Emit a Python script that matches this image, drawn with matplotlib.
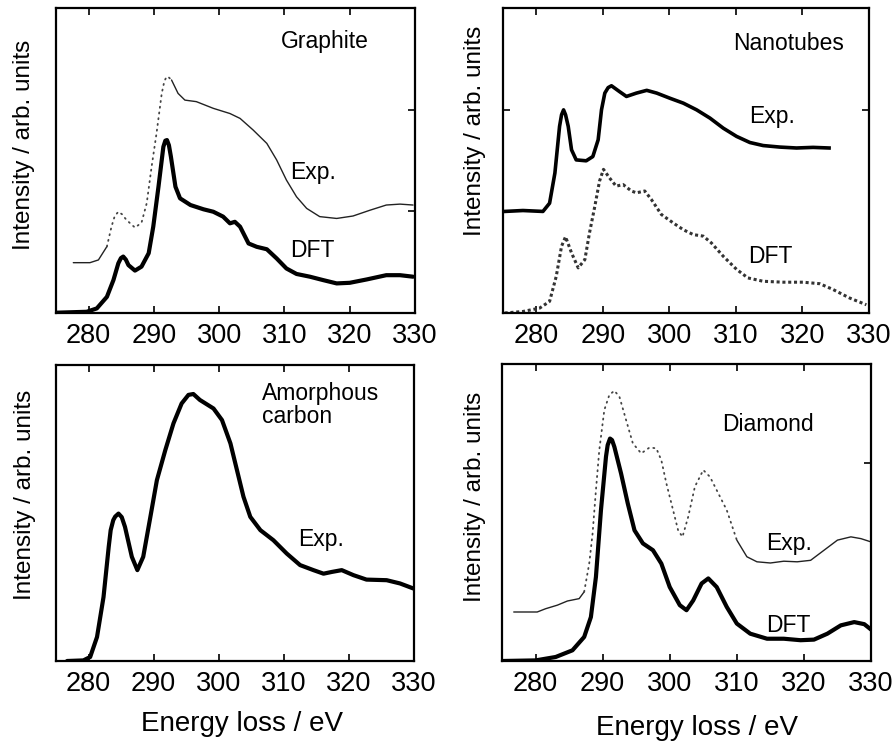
import matplotlib
matplotlib.use("Agg")
import matplotlib.pyplot as plt

plt.rcParams['font.family'] = ['Liberation Sans', 'DejaVu Sans']

# ---------------- data (energy loss in eV, intensity in arb. units 0-100) ----------------
graphite_exp_E = [277.65, 280.2, 281.5, 282.8, 283.5, 284.0, 284.55, 285.1, 285.8, 287.1, 288.1, 288.9,
                  289.65, 290.4, 291.2, 291.6, 291.95, 292.3, 292.7, 293.7, 294.75, 296.5, 299.1,
                  301.65, 303.2, 305.2, 307.3, 308.8, 310.3, 311.85, 313.4, 315.4, 318.0, 320.5,
                  323.1, 325.6, 327.7, 329.7]
graphite_exp_I = [16.5, 16.5, 17.4, 21.8, 28.3, 31.8, 33.2, 32.4, 30.5, 28.0, 29.6, 36.0,
                  48.0, 58.9, 72.0, 76.0, 77.5, 77.2, 76.4, 72.0, 69.8, 69.3, 67.1,
                  65.4, 63.8, 60.0, 55.6, 50.2, 43.6, 38.1, 34.3, 31.6, 31.0, 31.8,
                  33.7, 35.4, 35.7, 35.4]

graphite_dft_E = [275.1, 279.7, 281.25, 282.8, 283.8, 284.55, 284.95, 285.3, 285.7, 286.1, 287.1,
                  288.1, 289.2, 289.9, 290.7, 291.45, 291.75, 292.0, 292.3, 292.6, 293.3, 294.0,
                  295.6, 297.6, 299.1, 300.6, 301.65, 302.4, 303.2, 304.5, 305.75, 307.3, 308.8,
                  310.3, 311.85, 313.9, 315.9, 318.0, 320.0, 322.6, 325.6, 327.7, 329.7]
graphite_dft_I = [0.1, 0.4, 1.5, 5.3, 10.8, 16.3, 18.0, 18.5, 17.5, 15.7, 13.9,
                  15.2, 19.6, 28.3, 41.4, 54.5, 56.5, 56.7, 55.0, 51.3, 41.4, 37.6,
                  35.4, 34.0, 33.2, 31.6, 29.4, 29.9, 28.3, 22.8, 21.7, 20.9, 17.9,
                  14.6, 12.8, 11.9, 10.8, 9.7, 9.9, 11.0, 12.4, 12.4, 11.9]

nano_exp_E = [275.25, 278.0, 281.0, 282.0, 282.8, 283.5, 283.8, 284.1, 284.4, 284.8, 285.3, 286.0,
              287.5, 288.5, 289.3, 289.8, 290.3, 290.8, 291.3, 292.5, 293.55, 295.05, 296.6,
              298.1, 300.1, 302.1, 304.1, 306.1, 308.1, 310.1, 312.1, 314.1, 316.6, 319.1,
              321.6, 324.0]
nano_exp_I = [33.3, 33.6, 33.3, 36.0, 45.9, 61.2, 65.0, 66.6, 65.0, 61.2, 53.5, 50.2,
              49.9, 51.3, 56.8, 66.6, 72.1, 73.9, 74.5, 72.6, 71.0, 72.1, 73.0,
              72.1, 70.4, 68.8, 66.6, 63.9, 60.6, 57.9, 55.9, 54.9, 54.4, 54.1,
              54.3, 54.1]

nano_dft_E = [275.25, 278.0, 280.5, 282.0, 283.0, 283.8, 284.4, 285.3, 286.3, 287.3, 288.0, 288.8,
              289.5, 290.1, 291.0, 292.0, 293.05, 294.3, 295.05, 296.3, 297.3, 298.8, 300.6,
              302.1, 303.6, 305.1, 306.3, 308.1, 310.1, 311.8, 314.1, 317.1, 320.1, 322.6,
              324.6, 327.1, 329.6]
nano_dft_I = [0.0, 0.5, 1.6, 3.8, 12.0, 21.9, 25.0, 19.7, 14.8, 17.5, 26.3, 35.0,
              43.2, 47.1, 44.3, 41.6, 42.1, 40.0, 39.4, 40.0, 37.2, 32.3, 29.5,
              27.3, 25.7, 25.2, 23.0, 18.6, 14.3, 11.5, 10.4, 10.1, 10.1, 9.6,
              7.7, 4.9, 2.7]

amorph_E = [276.7, 279.2, 280.25, 281.3, 282.3, 283.1, 283.4, 283.8, 284.1, 284.6, 285.1, 285.6,
            286.65, 287.5, 288.4, 289.5, 290.5, 291.8, 293.05, 294.3, 295.35, 296.1, 297.1,
            299.2, 300.5, 301.8, 302.8, 303.8, 304.85, 306.4, 308.4, 310.45, 312.5, 314.55,
            316.1, 317.4, 318.9, 320.7, 322.7, 325.8, 327.85, 329.9]
amorph_I = [0.0, 0.2, 1.35, 8.1, 21.6, 38.6, 44.2, 47.6, 48.8, 49.8, 48.6, 45.3,
            35.2, 30.7, 35.2, 48.7, 61.1, 71.3, 80.3, 87.0, 89.9, 90.2, 88.2,
            85.3, 81.4, 73.5, 64.5, 55.5, 48.7, 44.2, 40.8, 36.3, 32.4, 30.7,
            29.5, 30.1, 30.7, 29.0, 27.5, 27.3, 26.2, 24.5]

diam_exp_E = [276.75, 280.25, 281.5, 283.25, 284.75, 286.5, 287.25, 288.0, 288.5, 289.0, 289.5,
              290.25, 291.0, 291.75, 292.5, 293.5, 294.5, 295.75, 297.0, 298.0, 298.75, 299.5,
              300.5, 301.25, 301.9, 302.75, 303.75, 305.0, 306.0, 307.25, 308.5, 310.0, 311.5,
              313.0, 315.0, 317.0, 319.0, 321.0, 323.0, 325.0, 327.0, 328.5, 330.0]
diam_exp_I = [16.5, 16.5, 17.6, 18.8, 20.2, 21.0, 23.3, 32.8, 42.9, 57.5, 71.0,
              84.5, 89.6, 91.0, 89.0, 81.1, 73.3, 69.9, 71.9, 71.6, 67.6, 59.8,
              50.8, 44.0, 41.8, 48.5, 58.7, 64.3, 62.0, 56.4, 50.8, 40.7, 35.1,
              33.4, 33.0, 33.6, 33.4, 33.9, 37.3, 40.7, 41.8, 41.2, 40.1]

diam_dft_E = [275.0, 280.0, 283.0, 285.5, 287.25, 288.25, 289.0, 289.75, 290.5, 290.75, 291.1,
              291.4, 291.75, 292.75, 293.75, 294.75, 296.0, 297.5, 298.75, 300.0, 301.5, 302.5,
              303.5, 304.75, 305.75, 307.0, 308.5, 310.0, 312.0, 314.5, 317.0, 319.5, 321.5,
              323.5, 325.5, 327.5, 329.0, 330.0]
diam_dft_I = [0.0, 0.2, 1.35, 3.6, 8.1, 14.8, 28.3, 50.8, 68.8, 72.7, 74.9,
              74.4, 72.1, 63.1, 53.0, 44.0, 39.6, 37.3, 32.8, 24.9, 18.8, 17.1,
              20.4, 26.1, 27.8, 24.9, 18.2, 12.6, 9.2, 7.5, 7.5, 7.0, 7.2,
              9.2, 12.0, 13.1, 12.4, 10.6]

xticks = [280, 290, 300, 310, 320, 330]
ylabel = "Intensity / arb. units"
xlabel = "Energy loss / eV"

# ---------------- figure ----------------
W, H = 893, 744
fig = plt.figure(figsize=(W / 100, H / 100), dpi=100)


def make_ax(l, r, t, b):
    return fig.add_axes([l / W, 1 - b / H, (r - l) / W, (b - t) / H])


ax_g = make_ax(56, 415, 8, 313)
ax_n = make_ax(503, 869, 8, 313)
ax_a = make_ax(56, 414, 365, 661)
ax_d = make_ax(502, 871, 364, 661)

for ax in (ax_g, ax_n, ax_a, ax_d):
    ax.set_xlim(275, 330)
    ax.set_ylim(0, 100)
    ax.set_xticks(xticks)
    ax.tick_params(axis='x', direction='in', top=True, bottom=True, length=5, width=1.2,
                   labelsize=19.5, pad=7)
    ax.tick_params(axis='y', direction='in', length=5, width=1.2, labelleft=False,
                   labelright=False, left=False, right=False)
    for s in ax.spines.values():
        s.set_linewidth(1.6)

# y ticks (unlabelled)
ax_g.set_yticks([33.3, 66.7]); ax_g.tick_params(axis='y', right=True)
ax_n.set_yticks([66.7]); ax_n.tick_params(axis='y', right=True, left=True)
ax_a.set_yticks([])
ax_d.set_yticks([66.7]); ax_d.tick_params(axis='y', right=True)

thin = dict(color='#222222', lw=1.0, solid_capstyle='round', solid_joinstyle='round')
dots = dict(color='#444444', lw=1.3, linestyle=(0, (0.6, 2.6)), dash_capstyle='round')
thick = dict(color='black', lw=3.0, solid_joinstyle='round', solid_capstyle='round')

# Graphite
ax_g.plot(graphite_exp_E[:4], graphite_exp_I[:4], **thin)
ax_g.plot(graphite_exp_E[3:19], graphite_exp_I[3:19], **dots)
ax_g.plot(graphite_exp_E[18:], graphite_exp_I[18:], **thin)
ax_g.plot(graphite_dft_E, graphite_dft_I, **thick)
ax_g.text(0.749, 0.889, "Graphite", transform=ax_g.transAxes, fontsize=16.5, ha='center', va='center')
ax_g.text(0.652, 0.46, "Exp.", transform=ax_g.transAxes, fontsize=16.5, ha='left', va='center')
ax_g.text(0.652, 0.205, "DFT", transform=ax_g.transAxes, fontsize=16.5, ha='left', va='center')

# Nanotubes
ax_n.plot(nano_exp_E, nano_exp_I, color='black', lw=2.6, solid_joinstyle='round')
ax_n.plot(nano_dft_E, nano_dft_I, color='#333333', lw=2.2, linestyle=(0, (1.0, 0.9)))
ax_n.text(0.78, 0.885, "Nanotubes", transform=ax_n.transAxes, fontsize=16.5, ha='center', va='center')
ax_n.text(0.672, 0.645, "Exp.", transform=ax_n.transAxes, fontsize=16.5, ha='left', va='center')
ax_n.text(0.670, 0.184, "DFT", transform=ax_n.transAxes, fontsize=16.5, ha='left', va='center')

# Amorphous carbon
ax_a.plot(amorph_E, amorph_I, **thick)
ax_a.text(0.575, 0.865, "Amorphous\ncarbon", transform=ax_a.transAxes, fontsize=16.5,
          ha='left', va='center', linespacing=1.0)
ax_a.text(0.675, 0.41, "Exp.", transform=ax_a.transAxes, fontsize=16.5, ha='left', va='center')

# Diamond
ax_d.plot(diam_exp_E[:7], diam_exp_I[:7], **thin)
ax_d.plot(diam_exp_E[6:32], diam_exp_I[6:32], **dots)
ax_d.plot(diam_exp_E[31:], diam_exp_I[31:], **thin)
ax_d.plot(diam_dft_E, diam_dft_I, **thick)
ax_d.text(0.72, 0.795, "Diamond", transform=ax_d.transAxes, fontsize=16.5, ha='center', va='center')
ax_d.text(0.715, 0.395, "Exp.", transform=ax_d.transAxes, fontsize=16.5, ha='left', va='center')
ax_d.text(0.715, 0.12, "DFT", transform=ax_d.transAxes, fontsize=16.5, ha='left', va='center')

# axis labels
fig.text(24 / W, 1 - 145 / H, ylabel, rotation=90, fontsize=17.5, ha='center', va='center')
fig.text(475 / W, 1 - 131 / H, ylabel, rotation=90, fontsize=17.5, ha='center', va='center')
fig.text(25 / W, 1 - 495 / H, ylabel, rotation=90, fontsize=17.5, ha='center', va='center')
fig.text(475 / W, 1 - 497 / H, ylabel, rotation=90, fontsize=17.5, ha='center', va='center')
fig.text(242 / W, 1 - 724 / H, xlabel, fontsize=20, ha='center', va='center')
fig.text(697 / W, 1 - 728 / H, xlabel, fontsize=20, ha='center', va='center')

fig.savefig("out.png", dpi=100)
